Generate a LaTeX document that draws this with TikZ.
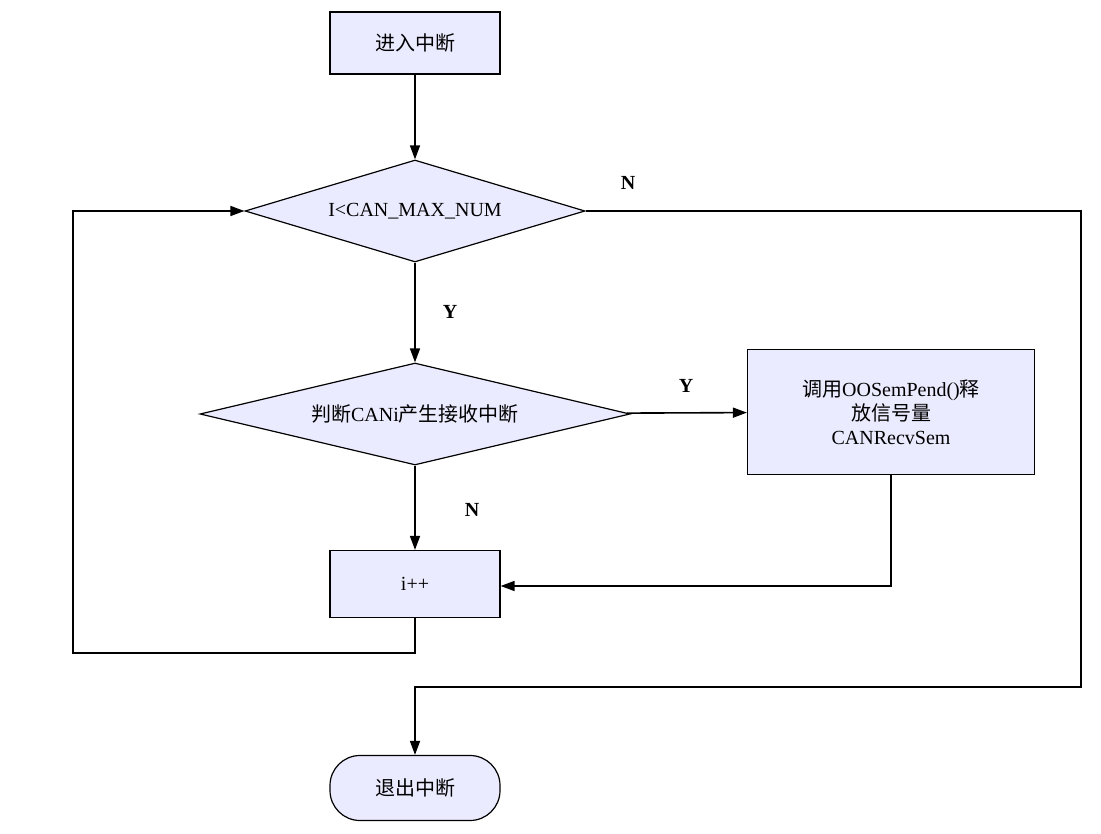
\documentclass[tikz,border=0pt]{standalone}
\usepackage{fontspec}
\setmainfont{Liberation Serif}
\newfontfamily\cjk{Noto Sans CJK SC}
\usetikzlibrary{shapes.geometric,arrows.meta}
\begin{document}
\begin{tikzpicture}[x=1pt,y=-1pt,
 box/.style={draw,line width=1.2pt,fill=blue!8!white,font=\fontsize{20}{24}\selectfont},
 arr/.style={line width=1.6pt,-{Triangle[length=14pt,width=10pt]}},
 ln/.style={line width=1.6pt},
 lab/.style={font=\bfseries\fontsize{20}{24}\selectfont}]
\useasboundingbox (0,0) rectangle (1101,834);
\node[box,minimum width=170pt,minimum height=62pt] (start) at (415,43) {\cjk 进入中断};
\node[box,diamond,aspect=3.33,minimum width=340pt,minimum height=102pt,inner sep=0pt] (d1) at (415,211) {I<CAN\_MAX\_NUM};
\node[box,diamond,aspect=4.2,minimum width=430pt,minimum height=102pt,inner sep=0pt] (d2) at (415,414) {{\cjk 判断}CANi{\cjk 产生接收中断}};
\node[box,minimum width=287pt,minimum height=125pt,align=center] (post) at (891,412) {{\cjk 调用}OOSemPend(){\cjk 释}\\{\cjk 放信号量}\\CANRecvSem};
\node[box,minimum width=170pt,minimum height=67pt] (inc) at (415,584) {i++};
\node[box,rounded corners=30pt,minimum width=170pt,minimum height=65pt] (end) at (415,788) {\cjk 退出中断};
\coordinate (c1) at (415,653); \coordinate (c2) at (73,653); \coordinate (c3) at (73,211);
\coordinate (c4) at (1081,211); \coordinate (c5) at (1081,687); \coordinate (c6) at (415,687);
\coordinate (c7) at (891,586);
\draw[arr] (start) -- (d1);
\draw[arr] (d1) -- (d2);
\draw[arr] (d2) -- (post);
\draw[arr] (d2) -- (inc);
\draw[arr] (post.south -| c7) -- (c7) -- (inc.east |- c7);
\draw[arr] (inc) -- (c1) -- (c2) -- (c3) -- (d1.west);
\draw[arr] (d1.east) -- (c4) -- (c5) -- (c6) -- (end);
\node[lab] (y1) at (450,312) {Y};
\node[lab] (y2) at (686,386) {Y};
\node[lab] (n1) at (472,510) {N};
\node[lab] (n2) at (628,183) {N};
\end{tikzpicture}
\end{document}
